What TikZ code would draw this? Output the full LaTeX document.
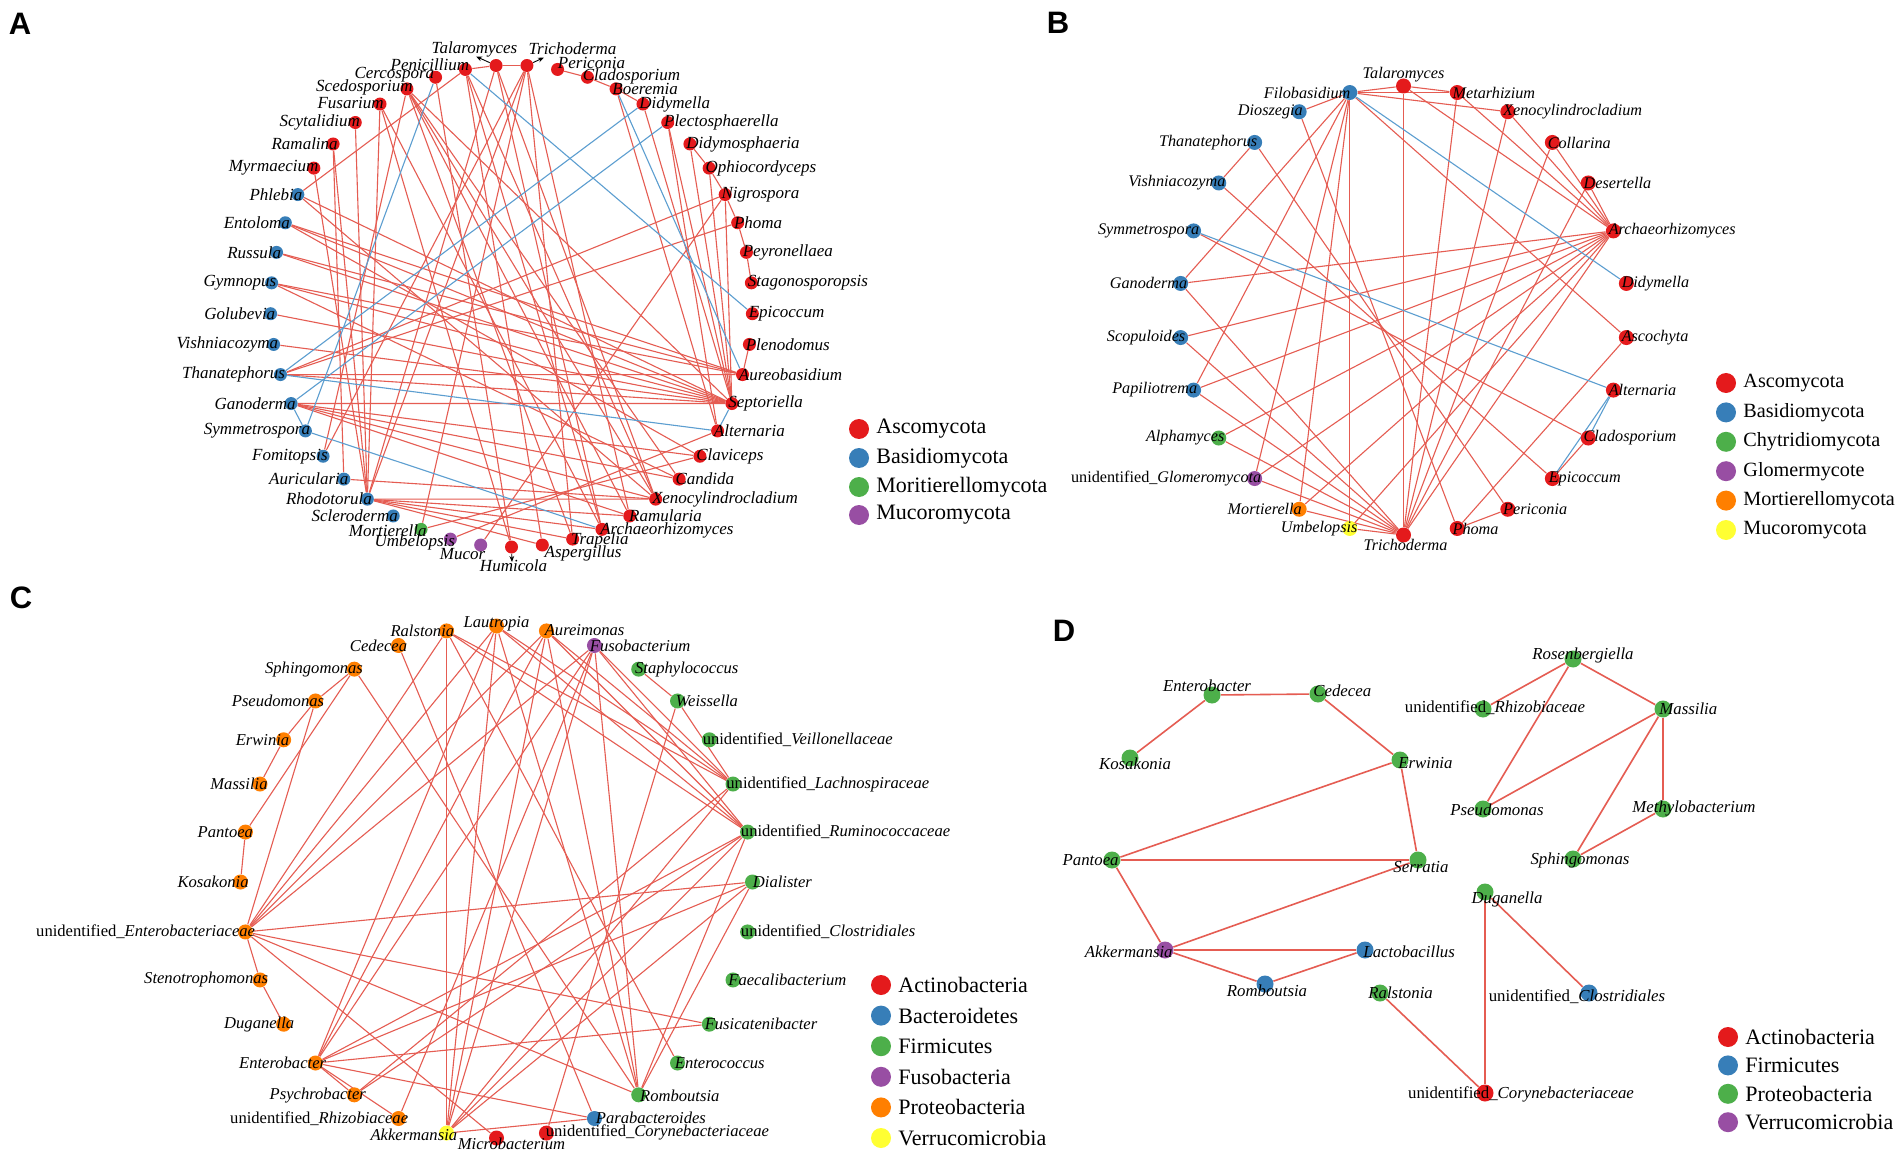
\documentclass[tikz,border=0pt]{standalone}
\usepackage{fontspec}
\setmainfont{Liberation Serif}
\newfontfamily\sansfnt{Liberation Sans}
\usetikzlibrary{calc,arrows.meta}
\pgfdeclarelayer{back}
\pgfdeclarelayer{edges}
\pgfsetlayers{back,edges,main}
\definecolor{cR}{RGB}{228,26,28}
\definecolor{cB}{RGB}{55,126,184}
\definecolor{cG}{RGB}{77,175,74}
\definecolor{cP}{RGB}{152,78,163}
\definecolor{cO}{RGB}{255,127,0}
\definecolor{cY}{RGB}{255,255,51}
\definecolor{edgeR}{RGB}{229,92,82}
\definecolor{edgeB}{RGB}{92,158,208}
\tikzset{
  ndA/.style={circle,inner sep=0pt,minimum size=6.5pt},
  ndB/.style={circle,inner sep=0pt,minimum size=7.5pt},
  ndC/.style={circle,inner sep=0pt,minimum size=7.5pt},
  ndD/.style={circle,inner sep=0pt,minimum size=8.5pt},
  eR/.style={draw=edgeR,line width=0.55pt},
  eBl/.style={draw=edgeB,line width=0.55pt},
  eD/.style={draw=edgeR,line width=0.8pt},
  lab/.style={inner sep=0pt,font=\fontsize{8.5}{10}\selectfont\itshape},
  legdot/.style={circle,inner sep=0pt,minimum size=10pt},
  legtxt/.style={anchor=west,inner sep=0pt,font=\fontsize{11}{13}\selectfont},
  plet/.style={font=\sansfnt\bfseries\fontsize{15.5}{16}\selectfont,inner sep=0pt},
  larr/.style={-{Stealth[length=3pt,width=2.4pt]},line width=0.45pt,black},
}
\newcommand{\mkA}[3]{\node[ndA,fill=#3] (#1) at ({511.5+241*sin(180-#2*7.3469388)},{306-241*cos(180-#2*7.3469388)}) {};}
\newcommand{\mkB}[3]{\node[ndB,fill=#3] (#1) at ({1403.5+224.5*sin(#2*13.846154)},{310.5-224.5*cos(#2*13.846154)}) {};}
\newcommand{\mkC}[3]{\node[ndC,fill=#3] (#1) at ({496.5+256*sin((#2-1)*11.25)},{882-256*cos((#2-1)*11.25)}) {};}
\newcommand{\labW}[4]{\node[lab,anchor=west] (#1l) at ($(#1)+(#2,#3)$) {#4};}
\newcommand{\labE}[4]{\node[lab,anchor=east] (#1l) at ($(#1)+(#2,#3)$) {#4};}
\newcommand{\labC}[4]{\node[lab,anchor=center] (#1l) at ($(#1)+(#2,#3)$) {#4};}
\newcommand{\drawedges}[2]{\begin{pgfonlayer}{edges}\foreach \ea/\eb in {#2}{\draw[#1] (\ea) -- (\eb);}\end{pgfonlayer}}
\newcommand{\legi}[5]{\node[legdot,fill=#4] (#1) at (#2,#3) {}; \node[legtxt] (#1t) at ($(#1)+(17,0)$) {#5};}
\newcommand{\unid}{{\upshape unidentified\_}}
\begin{document}
\begin{tikzpicture}[x=0.5pt,y=-0.5pt]
\useasboundingbox (0,0) rectangle (1902,1155);
\begin{pgfonlayer}{back}\fill[white] (0,0) rectangle (1902,1155);\end{pgfonlayer}

% ================= PANEL A =================
\node[plet] (LA) at (20,24) {A};
\mkA{aHum}{0}{cR}\mkA{aAsp}{1}{cR}\mkA{aTra}{2}{cR}\mkA{aArc}{3}{cR}\mkA{aRam}{4}{cR}
\mkA{aXen}{5}{cR}\mkA{aCan}{6}{cR}\mkA{aCla}{7}{cR}\mkA{aAlt}{8}{cR}\mkA{aSep}{9}{cR}
\mkA{aAur}{10}{cR}\mkA{aPle}{11}{cR}\mkA{aEpi}{12}{cR}\mkA{aSta}{13}{cR}\mkA{aPey}{14}{cR}
\mkA{aPho}{15}{cR}\mkA{aNig}{16}{cR}\mkA{aOph}{17}{cR}\mkA{aDis}{18}{cR}\mkA{aPls}{19}{cR}
\mkA{aDid}{20}{cR}\mkA{aBoe}{21}{cR}\mkA{aCld}{22}{cR}\mkA{aPer}{23}{cR}\mkA{aTri}{24}{cR}
\mkA{aTal}{25}{cR}\mkA{aPen}{26}{cR}\mkA{aCer}{27}{cR}\mkA{aSce}{28}{cR}\mkA{aFus}{29}{cR}
\mkA{aScy}{30}{cR}\mkA{aRml}{31}{cR}\mkA{aMyr}{32}{cR}\mkA{aPhl}{33}{cB}\mkA{aEnt}{34}{cB}
\mkA{aRus}{35}{cB}\mkA{aGym}{36}{cB}\mkA{aGol}{37}{cB}\mkA{aVis}{38}{cB}\mkA{aTha}{39}{cB}
\mkA{aGan}{40}{cB}\mkA{aSym}{41}{cB}\mkA{aFom}{42}{cB}\mkA{aAuc}{43}{cB}\mkA{aRho}{44}{cB}
\mkA{aScl}{45}{cB}\mkA{aMor}{46}{cG}\mkA{aUmb}{47}{cP}\mkA{aMuc}{48}{cP}

\drawedges{eR}{aPen/aTal, aTal/aTri, aPer/aCld, aCld/aBoe, aBoe/aDid, aDis/aOph, aOph/aNig, aNig/aPho, aPho/aPey, aPey/aSta, aPle/aAur,
aEnt/aSep, aRus/aSep, aGym/aSep, aGol/aSep, aVis/aSep, aTha/aSep, aPhl/aSep, aSce/aSep, aDid/aSep, aPls/aSep, aDis/aSep, aOph/aSep, aNig/aSep, aGan/aSep,
aGym/aAur, aRus/aAur, aTha/aAur, aEnt/aAur, aBoe/aAlt, aUmb/aAlt, aPls/aAlt,
aMor/aCla, aEnt/aCla, aGan/aCla, aGan/aCan, aGym/aCan, aSce/aCan,
aRho/aXen, aAuc/aXen, aSce/aXen, aPen/aXen, aTal/aXen, aGan/aXen, aPhl/aXen,
aTri/aRam, aSce/aRam, aRho/aRam, aGan/aRam, aPen/aArc, aTal/aArc, aRho/aArc, aFus/aArc,
aTri/aTra, aSce/aTra, aRho/aTra, aPen/aAsp, aRho/aAsp, aCer/aHum, aFus/aHum,
aNig/aMuc, aTri/aMor, aScy/aRho, aMyr/aRho, aRml/aRho, aTal/aRho, aTri/aRho, aFus/aRho,
aFom/aSce, aTri/aFom, aAuc/aRml, aPhl/aPen, aPho/aTha, aNig/aTha}
\drawedges{eBl}{aCer/aSym, aTha/aDid, aGan/aPls, aGan/aSym, aSym/aArc, aTha/aAlt, aPen/aEpi, aBoe/aAur, aAlt/aSep}

\labW{aAsp}{2}{8}{Aspergillus}\labW{aTra}{-2}{1}{Trapelia}\labW{aArc}{-2}{1}{Archaeorhizomyces}
\labW{aRam}{-1}{0}{Ramularia}\labW{aXen}{-4}{0}{Xenocylindrocladium}\labW{aCan}{-4}{0}{Candida}
\labW{aCla}{-4}{0}{Claviceps}\labW{aAlt}{-4}{0}{Alternaria}\labW{aSep}{-4}{0}{Septoriella}
\labW{aAur}{-4}{0}{Aureobasidium}\labW{aPle}{-4}{0}{Plenodomus}\labW{aEpi}{-4}{0}{Epicoccum}
\labW{aSta}{-4}{0}{Stagonosporopsis}\labW{aPey}{-4}{0}{Peyronellaea}\labW{aPho}{-4}{0}{Phoma}
\labW{aNig}{-4}{0}{Nigrospora}\labW{aOph}{-4}{0}{Ophiocordyceps}\labW{aDis}{-4}{0}{Didymosphaeria}
\labW{aPls}{-4}{0}{Plectosphaerella}\labW{aDid}{-4}{0}{Didymella}\labW{aBoe}{-4}{0}{Boeremia}
\labW{aCld}{-5}{-1}{Cladosporium}\labW{aPer}{0}{-6}{Periconia}
\labC{aTri}{45.6}{-16.5}{Trichoderma}\labC{aTal}{-21.6}{-16.5}{Talaromyces}\labC{aHum}{2}{19}{Humicola}
\labE{aPen}{4}{-5}{Penicillium}\labE{aCer}{-1}{-3}{Cercospora}\labE{aSce}{6}{-1}{Scedosporium}
\labE{aFus}{4}{-1}{Fusarium}\labE{aScy}{5}{0}{Scytalidium}\labE{aRml}{5}{0}{Ramalina}
\labE{aMyr}{5}{0}{Myrmaecium}\labE{aPhl}{5}{0}{Phlebia}\labE{aEnt}{5}{0}{Entoloma}
\labE{aRus}{5}{0}{Russula}\labE{aGym}{5}{0}{Gymnopus}\labE{aGol}{5}{0}{Golubevia}
\labE{aVis}{5}{0}{Vishniacozyma}\labE{aTha}{5}{0}{Thanatephorus}\labE{aGan}{5}{0}{Ganoderma}
\labE{aSym}{5}{0}{Symmetrospora}\labE{aFom}{5}{0}{Fomitopsis}\labE{aAuc}{5}{0}{Auricularia}
\labE{aRho}{5}{0}{Rhodotorula}\labE{aScl}{5}{0}{Scleroderma}\labE{aMor}{6}{1}{Mortierella}
\labE{aUmb}{5}{3}{Umbelopsis}\labE{aMuc}{5}{9}{Mucor}
\coordinate (aTalA) at ($(aTal)+(-20,-9)$); \draw[larr] (aTal) -- (aTalA);
\coordinate (aTriA) at ($(aTri)+(17,-8)$); \draw[larr] (aTri) -- (aTriA);
\coordinate (aHumA) at ($(aHum)+(0.5,15)$); \draw[larr] (aHum) -- (aHumA);

\legi{lgA1}{859}{429}{cR}{Ascomycota}
\legi{lgA2}{859}{458}{cB}{Basidiomycota}
\legi{lgA3}{859}{487}{cG}{Moritierellomycota}
\legi{lgA4}{859}{515}{cP}{Mucoromycota}

% ================= PANEL B =================
\node[plet] (LB) at (1058,23) {B};
\begin{scope}[lab/.style={inner sep=0pt,font=\fontsize{8.1}{10}\selectfont\itshape}]
\mkB{bTal}{0}{cR}\mkB{bMet}{1}{cR}\mkB{bXen}{2}{cR}\mkB{bCol}{3}{cR}\mkB{bDes}{4}{cR}
\mkB{bArc}{5}{cR}\mkB{bDid}{6}{cR}\mkB{bAsc}{7}{cR}\mkB{bAlt}{8}{cR}\mkB{bCld}{9}{cR}
\mkB{bEpi}{10}{cR}\mkB{bPer}{11}{cR}\mkB{bPho}{12}{cR}\mkB{bTri}{13}{cR}\mkB{bUmb}{14}{cY}
\mkB{bMor}{15}{cO}\mkB{bGlo}{16}{cP}\mkB{bAlp}{17}{cG}\mkB{bPap}{18}{cB}\mkB{bSco}{19}{cB}
\mkB{bGan}{20}{cB}\mkB{bSym}{21}{cB}\mkB{bVis}{22}{cB}\mkB{bTha}{23}{cB}\mkB{bDio}{24}{cB}
\mkB{bFil}{25}{cB}
\drawedges{eR}{bFil/bTal, bFil/bMet, bFil/bXen, bFil/bDio, bFil/bGan, bFil/bPap, bFil/bGlo, bFil/bMor, bFil/bUmb, bFil/bAsc,
bTal/bMet, bTal/bTri, bTal/bArc, bMet/bArc, bMet/bTri, bXen/bArc, bXen/bTri, bCol/bArc, bCol/bTri, bDes/bArc, bDes/bTri,
bArc/bGan, bArc/bSco, bArc/bPap, bArc/bAlp, bArc/bGlo, bArc/bMor, bArc/bUmb, bArc/bTri,
bTri/bGan, bTri/bSco, bTri/bPap, bTri/bAlp, bTri/bGlo, bTri/bMor, bTri/bUmb,
bPer/bPho, bPho/bAsc, bCld/bEpi, bTha/bVis, bTha/bPer, bVis/bEpi, bSym/bCld, bDio/bPho}
\drawedges{eBl}{bFil/bDid, bSym/bAlt, bAlt/bCld, bAlt/bEpi}
\labC{bTal}{0}{-11}{Talaromyces}
\labW{bMet}{-5}{0}{Metarhizium}\labW{bXen}{-5}{0}{Xenocylindrocladium}\labW{bCol}{-5}{0}{Collarina}
\labW{bDes}{-5}{0}{Desertella}\labW{bArc}{-5}{0}{Archaeorhizomyces}\labW{bDid}{-5}{0}{Didymella}
\labW{bAsc}{-5}{0}{Ascochyta}\labW{bAlt}{-5}{0}{Alternaria}\labW{bCld}{-5}{0}{Cladosporium}
\labW{bEpi}{-4}{0}{Epicoccum}\labW{bPer}{-5}{0}{Periconia}\labW{bPho}{-5}{0}{Phoma}
\labC{bTri}{2}{10}{Trichoderma}
\labE{bUmb}{8}{0}{Umbelopsis}\labE{bMor}{3}{0}{Mortierella}\labE{bGlo}{7}{0}{\unid Glomeromycota}
\labE{bAlp}{6}{0}{Alphamyces}\labE{bPap}{4}{0}{Papiliotrema}\labE{bSco}{5}{0}{Scopuloides}
\labE{bGan}{7}{0}{Ganoderma}\labE{bSym}{6}{0}{Symmetrospora}\labE{bVis}{7}{0}{Vishniacozyma}
\labE{bTha}{3}{0}{Thanatephorus}\labE{bDio}{4}{0}{Dioszegia}\labE{bFil}{1}{0}{Filobasidium}
\end{scope}
\begin{scope}[legtxt/.style={anchor=west,inner sep=0pt,font=\fontsize{10.1}{12}\selectfont}]
\legi{lgB1}{1726}{383}{cR}{Ascomycota}
\legi{lgB2}{1726}{412.4}{cB}{Basidiomycota}
\legi{lgB3}{1726}{441.8}{cG}{Chytridiomycota}
\legi{lgB4}{1726}{471.2}{cP}{Glomermycote}
\legi{lgB5}{1726}{500.6}{cO}{Mortierellomycota}
\legi{lgB6}{1726}{530}{cY}{Mucoromycota}
\end{scope}

% ================= PANEL C =================
\node[plet] (LC) at (21,598) {C};
\begin{scope}[lab/.style={inner sep=0pt,font=\fontsize{8.3}{10}\selectfont\itshape}]
\mkC{cLau}{1}{cO}\mkC{cAur}{2}{cO}\mkC{cFso}{3}{cP}\mkC{cSta}{4}{cG}\mkC{cWei}{5}{cG}
\mkC{cVei}{6}{cG}\mkC{cLac}{7}{cG}\mkC{cRum}{8}{cG}\mkC{cDia}{9}{cG}\mkC{cClo}{10}{cG}
\mkC{cFae}{11}{cG}\mkC{cFsc}{12}{cG}\mkC{cEnc}{13}{cG}\mkC{cRom}{14}{cG}\mkC{cPar}{15}{cB}
\mkC{cCor}{16}{cR}\mkC{cMic}{17}{cR}\mkC{cAkk}{18}{cY}\mkC{cRhi}{19}{cO}\mkC{cPsy}{20}{cO}
\mkC{cEnt}{21}{cO}\mkC{cDug}{22}{cO}\mkC{cSte}{23}{cO}\mkC{cEnb}{24}{cO}\mkC{cKos}{25}{cO}
\mkC{cPan}{26}{cO}\mkC{cMas}{27}{cO}\mkC{cErw}{28}{cO}\mkC{cPse}{29}{cO}\mkC{cSph}{30}{cO}
\mkC{cCed}{31}{cO}\mkC{cRal}{32}{cO}
\drawedges{eR}{cSph/cPse, cPse/cErw, cErw/cMas, cSph/cPan, cPan/cKos, cPse/cEnb, cSph/cRom, cCed/cPar,
cRal/cAkk, cRal/cEnb, cRal/cEnc, cRal/cLac, cRal/cRum,
cLau/cEnb, cLau/cEnt, cLau/cAkk, cLau/cLac, cLau/cRum, cLau/cRom,
cAur/cEnb, cAur/cEnt, cAur/cAkk, cAur/cLac, cAur/cRum, cAur/cRom,
cFso/cEnb, cFso/cEnt, cFso/cAkk, cFso/cLac, cFso/cRum, cFso/cRom, cFso/cRhi,
cSta/cWei, cWei/cLac, cWei/cCor, cLac/cAkk, cLac/cPsy,
cRum/cAkk, cRum/cEnt, cRum/cPsy, cRum/cRom,
cDia/cEnb, cDia/cAkk, cDia/cEnt, cDia/cRom, cFsc/cEnb, cFsc/cEnt,
cEnt/cPar, cEnt/cPsy, cEnt/cRhi, cEnb/cSte, cSte/cDug, cEnb/cMic, cEnb/cRom, cAkk/cPar}
\labC{cLau}{0}{-2}{Lautropia}
\labW{cAur}{-2}{-1}{Aureimonas}\labW{cFso}{-5}{0}{Fusobacterium}\labW{cSta}{-4}{0}{Staphylococcus}
\labW{cWei}{-2}{0}{Weissella}\labW{cVei}{-7}{0}{\unid Veillonellaceae}\labW{cLac}{-7}{0}{\unid Lachnospiraceae}
\labW{cRum}{-7}{0}{\unid Ruminococcaceae}\labW{cDia}{0}{0}{Dialister}\labW{cClo}{-7}{0}{\unid Clostridiales}
\labW{cFae}{-5}{0}{Faecalibacterium}\labW{cFsc}{-5}{0}{Fusicatenibacter}\labW{cEnc}{-3}{0}{Enterococcus}
\labW{cRom}{1}{1}{Romboutsia}\labW{cPar}{1}{-1}{Parabacteroides}\labW{cCor}{-1}{-1}{\unid Corynebacteriaceae}
\labC{cMic}{15}{6}{Microbacterium}
\labE{cAkk}{11}{2}{Akkermansia}\labE{cRhi}{10}{0}{\unid Rhizobiaceae}\labE{cPsy}{12}{1}{Psychrobacter}
\labE{cEnt}{11}{0}{Enterobacter}\labE{cDug}{11}{0}{Duganella}\labE{cSte}{8.5}{0}{Stenotrophomonas}
\labE{cEnb}{10}{0}{\unid Enterobacteriaceae}\labE{cKos}{8.5}{0}{Kosakonia}\labE{cPan}{8}{0}{Pantoea}
\labE{cMas}{8}{0}{Massilia}\labE{cErw}{6}{0}{Erwinia}\labE{cPse}{9}{0}{Pseudomonas}
\labE{cSph}{9}{0}{Sphingomonas}\labE{cCed}{9}{0}{Cedecea}\labE{cRal}{8}{0}{Ralstonia}
\end{scope}
\legi{lgC1}{881}{985}{cR}{Actinobacteria}
\legi{lgC2}{881}{1015.6}{cB}{Bacteroidetes}
\legi{lgC3}{881}{1046.2}{cG}{Firmicutes}
\legi{lgC4}{881}{1076.8}{cP}{Fusobacteria}
\legi{lgC5}{881}{1107.4}{cO}{Proteobacteria}
\legi{lgC6}{881}{1138}{cY}{Verrucomicrobia}

% ================= PANEL D =================
\node[plet] (LD) at (1064,631) {D};
\begin{scope}[lab/.style={inner sep=0pt,font=\fontsize{8.4}{10}\selectfont\itshape}]
\node[ndD,fill=cG] (dEnt) at (1212,695) {};
\node[ndD,fill=cG] (dCed) at (1318,694) {};
\node[ndD,fill=cG] (dKos) at (1130,758) {};
\node[ndD,fill=cG] (dErw) at (1400,760) {};
\node[ndD,fill=cG] (dPan) at (1112,860) {};
\node[ndD,fill=cG] (dSer) at (1418,860) {};
\node[ndD,fill=cP] (dAkk) at (1165,950) {};
\node[ndD,fill=cB] (dLac) at (1365,950) {};
\node[ndD,fill=cB] (dRom) at (1265,984) {};
\node[ndD,fill=cG] (dRal) at (1380,993) {};
\node[ndD,fill=cG] (dRos) at (1573,659) {};
\node[ndD,fill=cG] (dRhi) at (1483,709) {};
\node[ndD,fill=cG] (dMas) at (1663,709) {};
\node[ndD,fill=cG] (dPse) at (1483,809) {};
\node[ndD,fill=cG] (dMet) at (1663,809) {};
\node[ndD,fill=cG] (dSph) at (1573,859) {};
\node[ndD,fill=cG] (dDug) at (1485,892) {};
\node[ndD,fill=cB] (dClo) at (1589,993) {};
\node[ndD,fill=cR] (dCor) at (1485,1093) {};
\drawedges{eD}{dEnt/dCed, dEnt/dKos, dCed/dErw, dErw/dPan, dErw/dSer, dPan/dSer, dPan/dAkk, dAkk/dSer, dAkk/dLac, dAkk/dRom, dRom/dLac, dRal/dCor,
dRos/dRhi, dRos/dPse, dRos/dMas, dMas/dPse, dMas/dSph, dMas/dMet, dMet/dSph, dDug/dCor, dDug/dClo}
\labC{dEnt}{-5}{-9}{Enterobacter}\labW{dCed}{-5}{-3}{Cedecea}\labC{dKos}{5}{6}{Kosakonia}
\labW{dErw}{-2}{3}{Erwinia}\labE{dPan}{7}{0}{Pantoea}\labC{dSer}{3}{7}{Serratia}
\labE{dAkk}{8}{2}{Akkermansia}\labW{dLac}{-2}{2}{Lactobacillus}\labC{dRom}{2}{7}{Romboutsia}
\labW{dRal}{-12}{0}{Ralstonia}\labC{dRos}{10}{-4}{Rosenbergiella}\labC{dRhi}{12}{-1}{\unid Rhizobiaceae}
\labW{dMas}{-4}{0}{Massilia}\labC{dPse}{14}{1}{Pseudomonas}\labC{dMet}{31}{-1}{Methylobacterium}
\labC{dSph}{7}{1}{Sphingomonas}\labC{dDug}{22}{7}{Duganella}\labC{dClo}{-12}{4}{\unid Clostridiales}
\labC{dCor}{36}{1}{\unid Corynebacteriaceae}
\end{scope}
\legi{lgD1}{1728}{1037}{cR}{Actinobacteria}
\legi{lgD2}{1728}{1065.4}{cB}{Firmicutes}
\legi{lgD3}{1728}{1093.8}{cG}{Proteobacteria}
\legi{lgD4}{1728}{1122.2}{cP}{Verrucomicrobia}
\end{tikzpicture}
\end{document}
